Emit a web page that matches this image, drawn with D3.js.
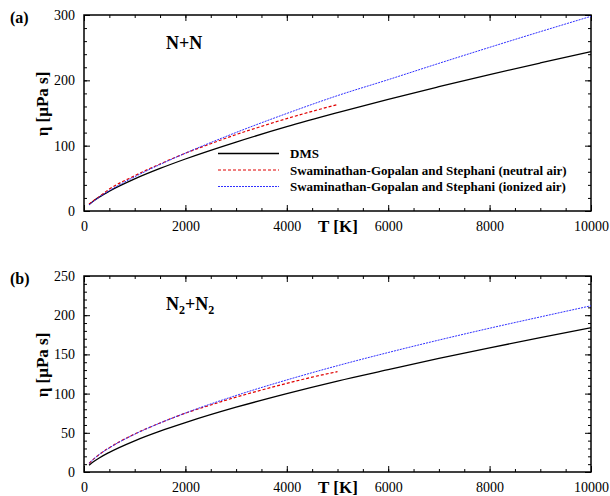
<!DOCTYPE html>
<html>
<head>
<meta charset="utf-8">
<script src="https://cdn.jsdelivr.net/npm/d3@7"></script>
<style>
  body { margin: 0; background: #fff; }
  svg text { font-family: "Liberation Serif", "Times New Roman", serif; }
</style>
</head>
<body>
<div id="chart"></div>
<script>
// Temperature grid (K)
const tempFull = [100, 200, 300, 500, 1000, 1500, 2000, 3000, 4000, 5000, 6000, 7000, 8000, 9000, 10000];
const tempNeutral = [100, 200, 300, 500, 1000, 1500, 2000, 2500, 3000, 3500, 4000, 4500, 5000];

// (a) N+N viscosity, µPa s
const nnDMS = [9.9, 16, 21.3, 30.3, 49.1, 65.1, 79.6, 105.5, 129, 150.5, 171, 190.2, 208.8, 226.6, 244];
const nnIonized = [9.2, 15.5, 21.1, 31.1, 52.4, 71.2, 88.5, 120.2, 149.3, 176.6, 201, 226, 250.5, 274.5, 298];
const nnNeutral = [10.5, 16.5, 22, 33.5, 54, 72, 88.5, 103, 117, 129.5, 141.5, 152.5, 163];

// (b) N2+N2 viscosity, µPa s
const n2DMS = [8.6, 13.6, 17.9, 25.1, 39.8, 52.1, 63, 82.6, 100, 116, 130.5, 144.8, 158.4, 171.4, 184];
const n2Ionized = [11, 17.1, 22.2, 30.8, 48.2, 62.5, 75.2, 97.6, 117.4, 135.6, 152.4, 168.3, 183.4, 197.8, 212];
const n2Neutral = [11, 17, 22.3, 31, 48.5, 62.5, 75, 85.5, 95.5, 104.5, 113, 121, 128];

const xTicks = [0, 2000, 4000, 6000, 8000, 10000];
const yTicksA = [0, 100, 200, 300];
const yTicksB = [0, 50, 100, 150, 200, 250];

const legendLabels = ["DMS",
  "Swaminathan-Gopalan and Stephani (neutral air)",
  "Swaminathan-Gopalan and Stephani (ionized air)"];

const width = 610, height = 496;
const svg = d3.select("#chart").append("svg")
  .attr("width", width)
  .attr("height", height);

const styles = {
  dms: { color: "#000", dash: null, width: 1.3 },
  neutral: { color: "#e00000", dash: "3,2", width: 1.2 },
  ionized: { color: "#3030ff", dash: "2,1", width: 1 }
};

function drawPanel(opt) {
  const x = d3.scaleLinear().domain([0, 10000]).range([84, 591]);
  const y = d3.scaleLinear().domain([0, opt.yMax]).range([opt.bottom, opt.top]);
  const g = svg.append("g");

  // minor + major ticks, all four sides, pointing inward
  const minorX = d3.range(0, 10001, 500);
  const minorY = d3.range(0, opt.yMax + 0.001, opt.yMinor);

  g.append("g").attr("transform", `translate(0,${opt.bottom})`)
    .call(d3.axisBottom(x).tickValues(minorX).tickSize(-3).tickFormat(""))
    .call(a => a.select(".domain").remove());
  g.append("g").attr("transform", `translate(0,${opt.top})`)
    .call(d3.axisTop(x).tickValues(minorX).tickSize(-3).tickFormat(""))
    .call(a => a.select(".domain").remove());
  g.append("g").attr("transform", "translate(84,0)")
    .call(d3.axisLeft(y).tickValues(minorY).tickSize(-3).tickFormat(""))
    .call(a => a.select(".domain").remove());
  g.append("g").attr("transform", "translate(591,0)")
    .call(d3.axisRight(y).tickValues(minorY).tickSize(-3).tickFormat(""))
    .call(a => a.select(".domain").remove());

  const xb = g.append("g").attr("transform", `translate(0,${opt.bottom})`)
    .call(d3.axisBottom(x).tickValues(xTicks).tickSize(-6).tickPadding(10).tickFormat(d3.format("d")));
  xb.select(".domain").remove();
  g.append("g").attr("transform", `translate(0,${opt.top})`)
    .call(d3.axisTop(x).tickValues(xTicks).tickSize(-6).tickFormat(""))
    .call(a => a.select(".domain").remove());
  const yl = g.append("g").attr("transform", "translate(84,0)")
    .call(d3.axisLeft(y).tickValues(opt.yTicks).tickSize(-6).tickPadding(9).tickFormat(d3.format("d")));
  yl.select(".domain").remove();
  g.append("g").attr("transform", "translate(591,0)")
    .call(d3.axisRight(y).tickValues(opt.yTicks).tickSize(-6).tickFormat(""))
    .call(a => a.select(".domain").remove());

  g.selectAll("g").attr("font-family", "Liberation Serif, serif");
  g.selectAll(".tick line").attr("stroke", "#000").attr("stroke-width", 1);
  g.selectAll(".tick text")
    .attr("font-size", 14)
    .attr("fill", "#000");

  // frame
  g.append("rect")
    .attr("x", 84).attr("y", opt.top)
    .attr("width", 591 - 84).attr("height", opt.bottom - opt.top)
    .attr("fill", "none").attr("stroke", "#000").attr("stroke-width", 1.5);

  const line = d3.line()
    .x(d => x(d[0]))
    .y(d => y(d[1]))
    .curve(d3.curveMonotoneX);

  opt.series.forEach(s => {
    const st = styles[s.key];
    g.append("path")
      .datum(d3.zip(s.t, s.v))
      .attr("d", line)
      .attr("fill", "none")
      .attr("stroke", st.color)
      .attr("stroke-width", st.width)
      .attr("stroke-dasharray", st.dash);
  });

  // panel letter
  g.append("text").attr("x", 10).attr("y", opt.top + 8)
    .attr("font-size", 16).attr("font-weight", "bold").text(opt.letter);

  // axis titles
  g.append("text")
    .attr("transform", `translate(48,${(opt.top + opt.bottom) / 2 - 9}) rotate(-90)`)
    .attr("text-anchor", "middle")
    .attr("font-size", 17).attr("font-weight", "bold")
    .text("η [μPa s]");
  g.append("text")
    .attr("x", 338).attr("y", opt.bottom + 21)
    .attr("text-anchor", "middle")
    .attr("font-size", 17).attr("font-weight", "bold")
    .text("T [K]");

  // species label
  const sp = g.append("text").attr("x", 166).attr("y", opt.top + 34)
    .attr("font-size", 18).attr("font-weight", "bold");
  opt.species(sp);
  return { x, y, g };
}

drawPanel({
  top: 15, bottom: 211, yMax: 300, yMinor: 20, yTicks: yTicksA, letter: "(a)",
  species: t => t.text("N+N"),
  series: [
    { key: "dms", t: tempFull, v: nnDMS },
    { key: "neutral", t: tempNeutral, v: nnNeutral },
    { key: "ionized", t: tempFull, v: nnIonized }
  ]
});

drawPanel({
  top: 276, bottom: 472, yMax: 250, yMinor: 10, yTicks: yTicksB, letter: "(b)",
  species: t => {
    t.append("tspan").text("N");
    t.append("tspan").attr("font-size", 12).attr("dy", 4).text("2");
    t.append("tspan").attr("dy", -4).text("+N");
    t.append("tspan").attr("font-size", 12).attr("dy", 4).text("2");
  },
  series: [
    { key: "dms", t: tempFull, v: n2DMS },
    { key: "neutral", t: tempNeutral, v: n2Neutral },
    { key: "ionized", t: tempFull, v: n2Ionized }
  ]
});

// legend in panel (a)
const legendKeys = ["dms", "neutral", "ionized"];
const legend = svg.append("g");
legendKeys.forEach((k, i) => {
  const st = styles[k];
  const yy = 153.5 + i * 16.5;
  legend.append("line")
    .attr("x1", 218).attr("x2", 279).attr("y1", yy).attr("y2", yy)
    .attr("stroke", st.color).attr("stroke-width", st.width)
    .attr("stroke-dasharray", st.dash);
  legend.append("text")
    .attr("x", 290).attr("y", yy + 4.5)
    .attr("font-size", 13).attr("font-weight", "bold")
    .text(legendLabels[i]);
});
</script>
</body>
</html>
